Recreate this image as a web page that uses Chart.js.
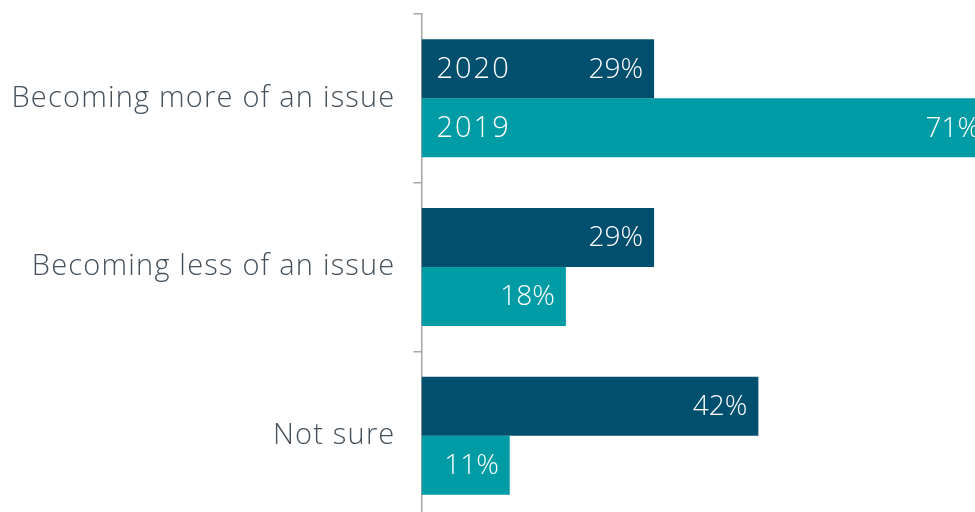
<!DOCTYPE html>
<html>
<head>
<meta charset="utf-8">
<script src="https://cdn.jsdelivr.net/npm/chart.js@4/dist/chart.umd.min.js"></script>
<style>
  html, body { margin: 0; padding: 0; background: #fff; overflow: hidden; }
  #wrap { width: 975px; height: 512px; overflow: hidden; }
</style>
</head>
<body>
<div id="wrap"><canvas id="chart" width="999" height="520"></canvas></div>
<script>
const categories = ["Becoming more of an issue", "Becoming less of an issue", "Not sure"];
const years = ["2020", "2019"];
const values2020 = [29, 29, 42];
const values2019 = [71, 18, 11];
const barColors = ["#004f6e", "#009ca6"];

const FONT = "'Open Sans', sans-serif";

// wider tracking for the axis labels
const tracking = {
  id: "tracking",
  beforeDraw(chart) { chart.ctx.letterSpacing = "1.2px"; }
};

// writes the value at the end of each bar, and the year at the start of the first group
const barLabels = {
  id: "barLabels",
  afterDatasetsDraw(chart) {
    const ctx = chart.ctx;
    ctx.save();
    ctx.fillStyle = "#ffffff";
    ctx.textBaseline = "middle";
    ctx.font = "300 28px " + FONT;
    chart.data.datasets.forEach((ds, i) => {
      const meta = chart.getDatasetMeta(i);
      meta.data.forEach((bar, j) => {
        ctx.letterSpacing = "0px";
        ctx.textAlign = "right";
        ctx.fillText(ds.data[j] + "%", bar.x - 11, bar.y + 1);
        if (j === 0) {
          ctx.letterSpacing = "2px";
          ctx.font = "300 29px " + FONT;
          ctx.textAlign = "left";
          ctx.fillText(ds.label, bar.base + 15, bar.y + 1);
          ctx.font = "300 28px " + FONT;
        }
      });
    });
    ctx.restore();
  }
};

new Chart(document.getElementById("chart"), {
  type: "bar",
  data: {
    labels: categories,
    datasets: [
      { label: years[0], data: values2020, backgroundColor: barColors[0] },
      { label: years[1], data: values2019, backgroundColor: barColors[1] }
    ]
  },
  options: {
    indexAxis: "y",
    responsive: false,
    animation: false,
    layout: { padding: { top: 14, right: 0, bottom: 0, left: 0 } },
    datasets: { bar: { categoryPercentage: 0.7, barPercentage: 1.0 } },
    plugins: {
      legend: { display: false },
      tooltip: { enabled: false }
    },
    scales: {
      x: { display: false, min: 0, max: 72 },
      y: {
        afterFit(scale) {
          scale.width = 421.5;
          scale.paddingTop = 0;
          scale.paddingBottom = 0;
        },
        border: { display: true, color: "#a6a6a6", width: 1.5 },
        grid: { drawOnChartArea: false, tickLength: 8, color: "#a6a6a6", lineWidth: 1.5 },
        ticks: {
          padding: 18,
          color: "#46515b",
          font: { family: FONT, size: 29, weight: "300" }
        }
      }
    }
  },
  plugins: [tracking, barLabels]
});
</script>
</body>
</html>
